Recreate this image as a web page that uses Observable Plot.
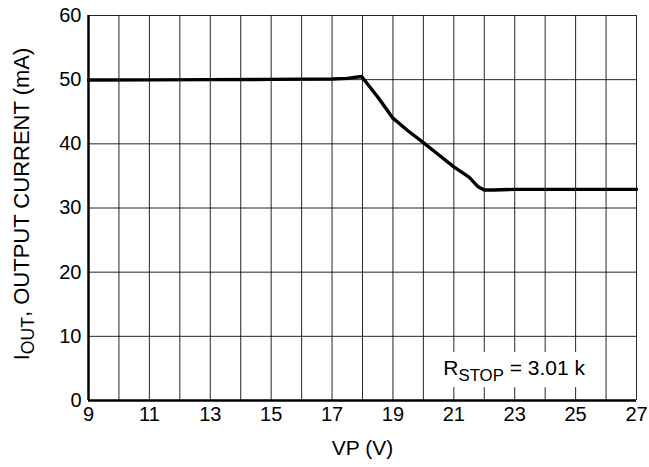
<!DOCTYPE html>
<html>
<head>
<meta charset="utf-8">
<script src="https://cdn.jsdelivr.net/npm/d3@7"></script>
<script src="https://cdn.jsdelivr.net/npm/@observablehq/plot@0.6"></script>
<style>
  html, body { margin: 0; padding: 0; background: #fff; }
  #chart svg { display: block; }
</style>
</head>
<body>
<div id="chart"></div>
<script>
// Data
const vp   = [9, 11, 13, 15, 17, 17.5, 17.97, 18.5, 19, 19.5, 20, 20.5, 21, 21.5, 21.8, 22, 22.3, 23, 25, 27];
const iout = [49.95, 49.97, 50.0, 50.05, 50.1, 50.2, 50.5, 47.3, 44.0, 42.0, 40.2, 38.3, 36.4, 34.8, 33.3, 32.8, 32.8, 32.9, 32.9, 32.9];

const xGrid = d3.range(9, 28, 1);
const xTickLabels = [9, 11, 13, 15, 17, 19, 21, 23, 25, 27];
const yTicks = [0, 10, 20, 30, 40, 50, 60];

const xLabel = "VP (V)";
const yLabel = "IOUT, OUTPUT CURRENT (mA)";
const note = "RSTOP = 3.01 k";
// annotation placement (data units)
const noteBox = {x1: 20.4, x2: 25.7, y1: 2.0, y2: 7.5};
const notePos = {x: 22.98, y: 4.95};

const data = vp.map((v, i) => ({vp: v, iout: iout[i]}));
const font = "'Liberation Sans', Arial, Helvetica, sans-serif";

const chart = Plot.plot({
  width: 649,
  height: 467,
  marginLeft: 88,
  marginRight: 13,
  marginTop: 15,
  marginBottom: 67,
  style: {fontFamily: font, fontSize: "20px", color: "#000", background: "#fff"},
  x: {domain: [9, 27], label: null},
  y: {domain: [0, 60], label: null},
  marks: [
    Plot.ruleX(xGrid, {stroke: "#000", strokeWidth: 1, strokeOpacity: 0.85}),
    Plot.ruleY(yTicks, {stroke: "#000", strokeWidth: 1, strokeOpacity: 0.85}),
    Plot.rect([noteBox], {x1: "x1", x2: "x2", y1: "y1", y2: "y2", fill: "#fff"}),
    Plot.text([note], {x: notePos.x, y: notePos.y, text: d => d, fontSize: 21, fill: "#000"}),
    Plot.axisX(xTickLabels, {tickSize: 0, tickPadding: 6, fontSize: 20, label: null}),
    Plot.axisY(yTicks, {tickSize: 0, tickPadding: 7, fontSize: 20, label: null}),
    Plot.ruleX([9], {stroke: "#000", strokeWidth: 2.5}),
    Plot.ruleY([0], {stroke: "#000", strokeWidth: 2.5}),
    Plot.line(data, {x: "vp", y: "iout", stroke: "#000", strokeWidth: 3.4, strokeLinejoin: "round"}),
    Plot.text([xLabel], {frameAnchor: "bottom", dy: 54, text: d => d, fontSize: 21}),
    Plot.text([yLabel], {frameAnchor: "left", textAnchor: "middle", dx: -67, dy: -4, rotate: -90, text: d => d, fontSize: 22})
  ]
});

document.getElementById("chart").appendChild(chart);

// Subscripts
function subscript(full, main, sub, rest) {
  d3.select(chart).selectAll("text").each(function() {
    if (this.textContent === full) {
      const t = d3.select(this);
      t.text(null);
      t.append("tspan").text(main);
      t.append("tspan").attr("dy", "0.3em").attr("font-size", "0.8em").text(sub);
      t.append("tspan").attr("dy", "-0.24em").text(rest);
    }
  });
}
subscript(yLabel, "I", "OUT", ", OUTPUT CURRENT (mA)");
subscript(note, "R", "STOP", " = 3.01 k");
</script>
</body>
</html>
